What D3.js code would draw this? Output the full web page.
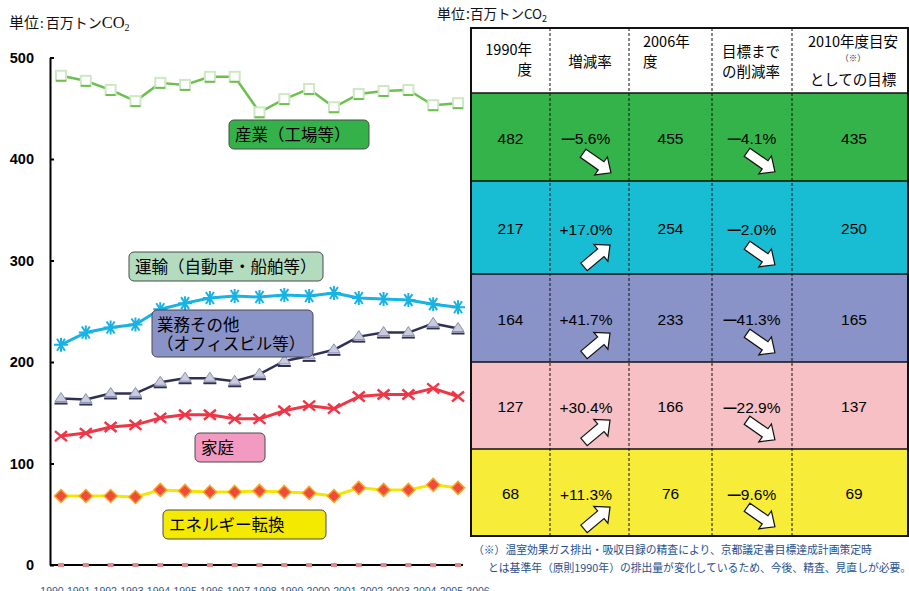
<!DOCTYPE html>
<html><head><meta charset="utf-8">
<script src="https://cdn.jsdelivr.net/npm/d3@7"></script>
<style>
html,body{margin:0;padding:0;background:#fff;}
svg{display:block;font-family:"Liberation Sans","Noto Sans CJK JP",sans-serif;}
</style></head>
<body><svg id="c" width="909" height="591"></svg>
<script>
// ---------- data ----------
const years = [1990,1991,1992,1993,1994,1995,1996,1997,1998,1999,2000,2001,2002,2003,2004,2005,2006];
const industry    = [482,477,468,457,475,473,481,481,446,459,469,451,464,467,468,453,455];
const transport   = [217,229,234,237,252,258,263,265,264,266,265,268,263,262,261,257,254];
const commercial  = [164,163,169,169,180,184,184,181,188,201,206,212,225,229,229,238,233];
const residential = [127,130,136,138,145,148,148,144,144,152,157,154,166,168,168,174,166];
const energy      = [68,68,68,67,74,73,72,72,73,72,71,68,76,74,74,79,76];
const other       = [0,0,0,0,0,0,0,0,0,0,0,0,0,0,0,0,0];
const yTicks = [0,100,200,300,400,500];

const seriesNames = ["産業（工場等）","運輸（自動車・船舶等）","業務その他\n（オフィスビル等）","家庭","エネルギー転換"];
const base1990   = [482,217,164,127,68];
const changeRate = [-5.6,17.0,41.7,30.4,11.3];
const fy2006     = [455,254,233,166,76];
const toTarget   = [-4.1,-2.0,-41.3,-22.9,-9.6];
const target2010 = [435,250,165,137,69];
const footnote = ["（※）温室効果ガス排出・吸収目録の精査により、京都議定書目標達成計画策定時",
                  "とは基準年（原則1990年）の排出量が変化しているため、今後、精査、見直しが必要。"];

// ---------- setup ----------
const svg = d3.select("#c");
const x = d3.scaleLinear().domain([1990,2006]).range([61,458]);
const xl = d3.scalePoint().domain(years).range([52,478]);
const y = d3.scaleLinear().domain([0,500]).range([565,57.5]);
const jp = "'Noto Sans CJK JP','Liberation Sans',sans-serif";

// unit labels
const u1 = svg.append("text").attr("x",9).attr("y",28).attr("font-size",15).attr("fill","#111").attr("font-family",jp);
u1.append("tspan").text("単位");
u1.append("tspan").text(":").attr("font-size",13).attr("dx",1);
u1.append("tspan").text("百万トン").attr("font-size",14).attr("dx",2);
u1.append("tspan").text("CO").attr("font-family","'Liberation Serif',serif").attr("font-size",16.5);
u1.append("tspan").text("2").attr("font-family","'Liberation Serif',serif").attr("font-size",10).attr("dy",3);

const u2 = svg.append("text").attr("x",437).attr("y",19).attr("font-size",14).attr("fill","#111").attr("font-family",jp);
u2.append("tspan").text("単位");
u2.append("tspan").text(":").attr("dx",1);
u2.append("tspan").text("百万トンCO").attr("font-size",13.5);
u2.append("tspan").text("2").attr("font-size",9).attr("dy",3);

// y axis
const ya = svg.append("g").attr("transform","translate(50,0)")
  .call(d3.axisLeft(y).tickValues(yTicks).tickSize(-4).tickSizeOuter(0).tickPadding(16));
ya.select(".domain").attr("stroke","#000").attr("stroke-width",2);
ya.selectAll(".tick line").attr("stroke","#000").attr("stroke-width",2);
ya.selectAll(".tick text").attr("font-size",14.5).attr("font-weight","bold").attr("fill","#000")
  .attr("font-family","'Liberation Sans',Arial,sans-serif");

// x baseline
svg.append("line").attr("x1",50).attr("x2",463).attr("y1",y(0)).attr("y2",y(0)).attr("stroke","#000").attr("stroke-width",2);

// x labels
svg.append("g").selectAll("text").data(years).join("text")
  .attr("x",d=>xl(d)).attr("y",595).attr("text-anchor","middle")
  .attr("font-size",10.5).attr("fill","#2a5a8f").text(d=>d);

const line = d3.line().x((d,i)=>x(years[i])).y(d=>y(d));
function drawLine(vals,color,w){
  svg.append("path").datum(vals).attr("d",line).attr("fill","none").attr("stroke",color).attr("stroke-width",w).attr("stroke-linejoin","round");
}

// zero series markers
svg.append("g").selectAll("rect").data(other).join("rect")
  .attr("x",(d,i)=>x(years[i])-3).attr("y",d=>y(d)-2).attr("width",6).attr("height",4).attr("fill","#e08a8e");

// energy
drawLine(energy,"#f3e600",3);
svg.append("g").selectAll("path").data(energy).join("path")
  .attr("transform",(d,i)=>`translate(${x(years[i])},${y(d)})`)
  .attr("d","M0,-6.5 L6.5,0 L0,6.5 L-6.5,0 Z").attr("fill","#ef4a3c").attr("stroke","#f7a323").attr("stroke-width",1.5);

// residential
drawLine(residential,"#ee3646",3);
svg.append("g").selectAll("path").data(residential).join("path")
  .attr("transform",(d,i)=>`translate(${x(years[i])},${y(d)})`)
  .attr("d","M-6,-5 L6,5 M-6,5 L6,-5").attr("stroke","#ee3646").attr("stroke-width",2.4).attr("fill","none");

// commercial
drawLine(commercial,"#2f3056",2.5);
const cm = svg.append("g").selectAll("g").data(commercial).join("g")
  .attr("transform",(d,i)=>`translate(${x(years[i])},${y(d)})`);
cm.append("path").attr("d","M0,-6 L6,3 L-6,3 Z").attr("fill","#c9ccdc").attr("stroke","#8a8fae").attr("stroke-width",1);
cm.append("line").attr("x1",-6.5).attr("x2",6.5).attr("y1",5).attr("y2",5).attr("stroke","#2f3056").attr("stroke-width",2);

// transport
drawLine(transport,"#17b2e6",3);
svg.append("g").selectAll("path").data(transport).join("path")
  .attr("transform",(d,i)=>`translate(${x(years[i])},${y(d)})`)
  .attr("d","M-7,0 L7,0 M-4,-6 L4,6 M-4,6 L4,-6 M0,-7 L0,7").attr("stroke","#17b2e6").attr("stroke-width",2).attr("fill","none");

// industry
drawLine(industry,"#6cc04e",2.5);
const im = svg.append("g").selectAll("g").data(industry).join("g")
  .attr("transform",(d,i)=>`translate(${x(years[i])},${y(d)})`);
im.append("rect").attr("x",-5).attr("y",-5).attr("width",10).attr("height",10).attr("fill","#fff").attr("stroke","#cfe8c4").attr("stroke-width",2);
im.append("line").attr("x1",-5).attr("x2",5).attr("y1",5).attr("y2",5).attr("stroke","#6cc04e").attr("stroke-width",2);

// label boxes
const boxes = [
  {t:seriesNames[0], x:229, y:120, w:140, h:29, fill:"#35b14a"},
  {t:seriesNames[1], x:129, y:252, w:194, h:29, fill:"#b3dcbf"},
  {t:seriesNames[2], x:152, y:310, w:161, h:47, fill:"#8a93c8"},
  {t:seriesNames[3], x:195, y:433, w:70, h:29, fill:"#f29ac1"},
  {t:seriesNames[4], x:163, y:510, w:163, h:29, fill:"#f3ea00"}
];
boxes.forEach(b=>{
  svg.append("rect").attr("x",b.x).attr("y",b.y).attr("width",b.w).attr("height",b.h).attr("rx",5)
    .attr("fill",b.fill).attr("stroke","#4a4a4a").attr("stroke-width",1);
  const lines = b.t.split("\n");
  const t = svg.append("text").attr("font-family",jp).attr("font-size",16.5).attr("fill","#000");
  lines.forEach((l,k)=>{
    t.append("tspan").attr("x",b.x+(lines.length>1?5:6)).attr("y", lines.length>1 ? b.y+21+k*19 : b.y+b.h/2+6).text(l);
  });
});

// ---------- table ----------
const colEdges = [471,550,629,712,792,908];
const rowEdges = [28,93,181,274,362,449,536];
const rowColors = ["#34b34b","#18bdd3","#8a93c8","#f7c0c5","#f7ec37"];
const tg = svg.append("g");
tg.append("rect").attr("x",colEdges[0]).attr("y",rowEdges[0]).attr("width",colEdges[5]-colEdges[0]).attr("height",rowEdges[1]-rowEdges[0]).attr("fill","#fff");
tg.selectAll("rect.row").data(rowColors).join("rect").attr("class","row")
  .attr("x",colEdges[0]).attr("y",(d,i)=>rowEdges[i+1]).attr("width",colEdges[5]-colEdges[0])
  .attr("height",(d,i)=>rowEdges[i+2]-rowEdges[i+1]).attr("fill",d=>d);
tg.selectAll("line.h").data(rowEdges.slice(1,6)).join("line").attr("class","h")
  .attr("x1",colEdges[0]).attr("x2",colEdges[5]).attr("y1",d=>d).attr("y2",d=>d).attr("stroke","#111").attr("stroke-width",1.5);
tg.selectAll("line.v").data(colEdges.slice(1,5)).join("line").attr("class","v")
  .attr("x1",d=>d).attr("x2",d=>d).attr("y1",rowEdges[0]).attr("y2",rowEdges[6]).attr("stroke","#111").attr("stroke-width",1).attr("stroke-dasharray","3,2");
tg.append("rect").attr("x",colEdges[0]).attr("y",rowEdges[0]).attr("width",colEdges[5]-colEdges[0]).attr("height",rowEdges[6]-rowEdges[0])
  .attr("fill","none").attr("stroke","#111").attr("stroke-width",2);

// header text
const hdr = [
  {lines:["1990年","度"], x:532, ys:[55,75], anchor:"end"},
  {lines:["増減率"], x:590, ys:[67], anchor:"middle"},
  {lines:["2006年","度"], x:643, ys:[47,67], anchor:"start"},
  {lines:["目標まで","の削減率"], x:751, ys:[57,77], anchor:"middle"},
  {lines:["2010年度目安","としての目標"], x:853, ys:[47,85], anchor:"middle"}
];
hdr.forEach(h=>{
  h.lines.forEach((l,k)=>{
    tg.append("text").attr("x",h.x).attr("y",h.ys[k]).attr("text-anchor",h.anchor)
      .attr("font-family",jp).attr("font-size",14.5).attr("fill","#000").text(l);
  });
});
tg.append("text").attr("x",853).attr("y",61).attr("text-anchor","middle").attr("font-family",jp).attr("font-size",8.5).attr("fill","#333").text("（※）");

// body text
const fmtPct = v => (v<0?"":"+") + Math.abs(v).toFixed(1) + "%";
function pctText(g,v,cx,cy){
  const t = g.append("text").attr("x",cx).attr("y",cy).attr("text-anchor","middle").attr("dominant-baseline","central")
     .attr("font-size",15.5).attr("fill","#000");
  if(v<0){
    t.append("tspan").text("━").attr("font-family",jp).attr("font-size",13);
  }
  t.append("tspan").text(fmtPct(v));
}
const arrowD = "M-17,-5 L5,-5 L5,-11 L17,0 L5,11 L5,5 L-17,5 Z";
for(let i=0;i<5;i++){
  const top = rowEdges[i+1], bot = rowEdges[i+2], cy = (top+bot)/2 + 1;
  const cx = k => (colEdges[k]+colEdges[k+1])/2;
  tg.append("text").attr("x",cx(0)).attr("y",cy).attr("text-anchor","middle").attr("dominant-baseline","central").attr("font-size",15.5).text(base1990[i]);
  pctText(tg,changeRate[i],586,cy);
  tg.append("text").attr("x",cx(2)).attr("y",cy).attr("text-anchor","middle").attr("dominant-baseline","central").attr("font-size",15.5).text(fy2006[i]);
  pctText(tg,toTarget[i],752,cy);
  tg.append("text").attr("x",cx(4)+4).attr("y",cy).attr("text-anchor","middle").attr("dominant-baseline","central").attr("font-size",15.5).text(target2010[i]);
  tg.append("path").attr("d",arrowD).attr("transform",`translate(597,${bot-18}) rotate(${changeRate[i]<0?35:-40})`)
    .attr("fill","#fff").attr("stroke","#111").attr("stroke-width",1.2);
  tg.append("path").attr("d",arrowD).attr("transform",`translate(761,${bot-19}) rotate(${toTarget[i]<0?35:-40})`)
    .attr("fill","#fff").attr("stroke","#111").attr("stroke-width",1.2);
}

// footnote
svg.append("text").attr("x",473).attr("y",554).attr("font-family",jp).attr("font-size",10.8).attr("fill","#1f4f8f").text(footnote[0]);
svg.append("text").attr("x",488).attr("y",572).attr("font-family",jp).attr("font-size",10.8).attr("fill","#1f4f8f").text(footnote[1]);
</script></body></html>
